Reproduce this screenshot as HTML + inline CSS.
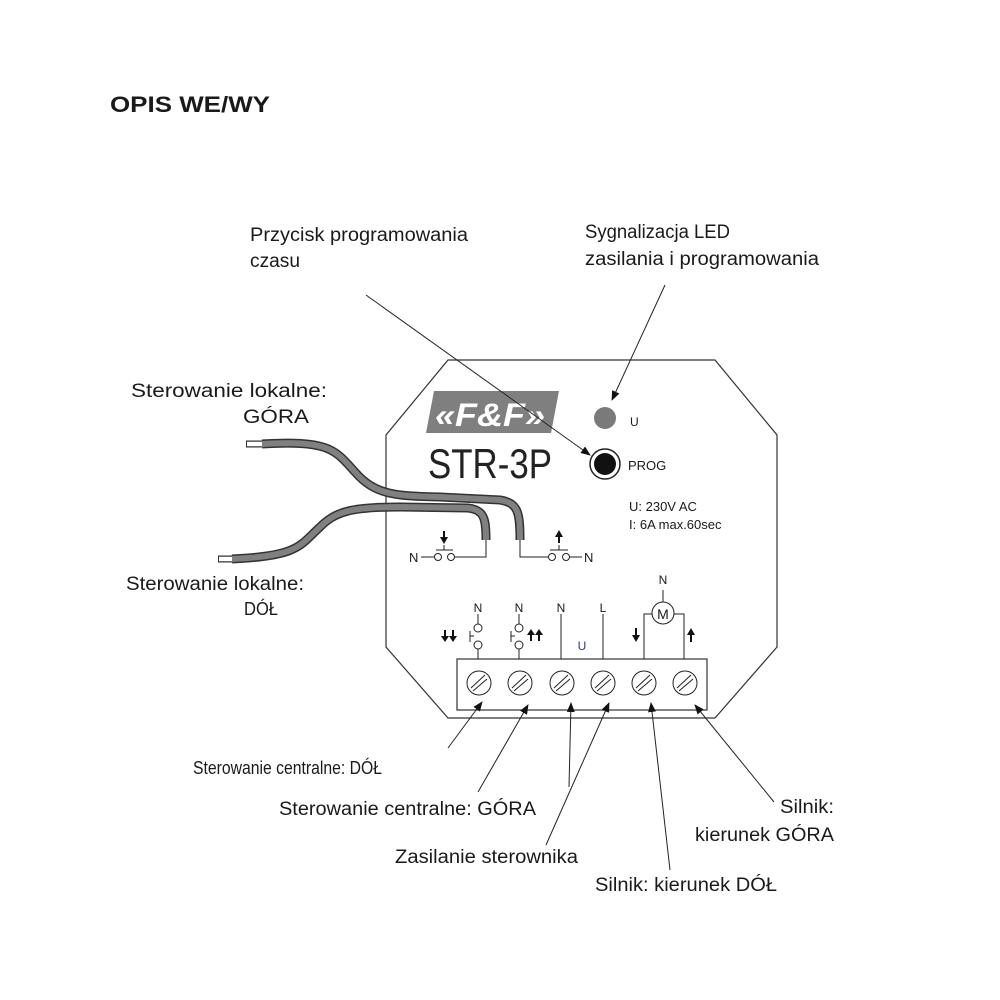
<!DOCTYPE html>
<html><head><meta charset="utf-8"><style>
html,body{margin:0;padding:0;background:#fff}
svg{display:block}
text{font-family:"Liberation Sans",sans-serif;fill:#1a1a1a}
</style></head><body>
<svg width="1000" height="1000" viewBox="0 0 1000 1000">
<defs>
<marker id="a" markerWidth="10" markerHeight="8" refX="9" refY="4" orient="auto" markerUnits="userSpaceOnUse"><path d="M0,0 L10,4 L0,8 Z" fill="#111"/></marker>
</defs>
<text x="110" y="112" font-size="22" font-weight="bold" textLength="160" lengthAdjust="spacingAndGlyphs">OPIS WE/WY</text>

<g font-size="19">
<text x="250" y="241" textLength="218" lengthAdjust="spacingAndGlyphs">Przycisk programowania</text>
<text x="250" y="267" textLength="50" lengthAdjust="spacingAndGlyphs">czasu</text>
<text x="585" y="238" textLength="145" lengthAdjust="spacingAndGlyphs">Sygnalizacja LED</text>
<text x="585" y="265" textLength="234" lengthAdjust="spacingAndGlyphs">zasilania i programowania</text>
<text x="131" y="397" textLength="196" lengthAdjust="spacingAndGlyphs">Sterowanie lokalne:</text>
<text x="243" y="423" textLength="66" lengthAdjust="spacingAndGlyphs">GÓRA</text>
<text x="126" y="590" textLength="178" lengthAdjust="spacingAndGlyphs">Sterowanie lokalne:</text>
<text x="244" y="615" font-size="18" textLength="34" lengthAdjust="spacingAndGlyphs">DÓŁ</text>
<text x="193" y="774" font-size="18" textLength="189" lengthAdjust="spacingAndGlyphs">Sterowanie centralne: DÓŁ</text>
<text x="279" y="815" textLength="257" lengthAdjust="spacingAndGlyphs">Sterowanie centralne: GÓRA</text>
<text x="395" y="863" textLength="183" lengthAdjust="spacingAndGlyphs">Zasilanie sterownika</text>
<text x="780" y="813" textLength="54" lengthAdjust="spacingAndGlyphs">Silnik:</text>
<text x="695" y="841" textLength="139" lengthAdjust="spacingAndGlyphs">kierunek GÓRA</text>
<text x="595" y="891" textLength="182" lengthAdjust="spacingAndGlyphs">Silnik: kierunek DÓŁ</text>
</g>

<path d="M448,360 L715,360 L777,435 L777,647 L715,718 L448,718 L386,647 L386,435 Z" fill="none" stroke="#333" stroke-width="1.2"/>

<path d="M434,391 L559,391 L551,433 L426,433 Z" fill="#7f7f7f"/>
<text x="490" y="426" font-size="32" font-weight="bold" font-style="italic" text-anchor="middle" style="fill:#fff" textLength="110" lengthAdjust="spacingAndGlyphs">«F&amp;F»</text>
<text x="428" y="478" font-size="42" textLength="124" lengthAdjust="spacingAndGlyphs" style="fill:#222">STR-3P</text>

<circle cx="605" cy="418" r="11" fill="#7a7a7a"/>
<text x="630" y="426" font-size="12">U</text>
<circle cx="605" cy="464" r="15" fill="#fff" stroke="#222" stroke-width="1.5"/>
<circle cx="605" cy="464" r="11" fill="#111"/>
<text x="628" y="470" font-size="13">PROG</text>
<text x="629" y="511" font-size="13">U: 230V AC</text>
<text x="629" y="529" font-size="13">I: 6A max.60sec</text>

<g fill="none" stroke-linecap="butt">
<path d="M262,444 C330,440 335,450 355,472 C375,495 395,496 440,497 L500,500 C518,503 520,512 520,540" stroke="#333" stroke-width="9"/>
<path d="M262,444 C330,440 335,450 355,472 C375,495 395,496 440,497 L500,500 C518,503 520,512 520,540" stroke="#808080" stroke-width="6"/>
<path d="M232,559 C300,556 300,545 320,527 C335,512 350,507 400,507 L468,508 C484,510 486,518 486,540" stroke="#333" stroke-width="9"/>
<path d="M232,559 C300,556 300,545 320,527 C335,512 350,507 400,507 L468,508 C484,510 486,518 486,540" stroke="#808080" stroke-width="6"/>
<path d="M246,444 L262,444" stroke="#333" stroke-width="7"/><path d="M247,444 L262,444" stroke="#fff" stroke-width="4.5"/>
<path d="M218,559 L232,559" stroke="#333" stroke-width="7"/><path d="M219,559 L232,559" stroke="#fff" stroke-width="4.5"/>
</g>

<g stroke="#222" stroke-width="1" fill="none">
<path d="M486,540 L486,557 L455,557"/>
<circle cx="451" cy="557" r="3.5" fill="#fff"/><circle cx="438" cy="557" r="3.5" fill="#fff"/>
<path d="M434,557 L421,557 M436,550 L453,550 M444,550 L444,545"/>
<path d="M520,540 L520,557 L548,557"/>
<circle cx="552" cy="557" r="3.5" fill="#fff"/><circle cx="566" cy="557" r="3.5" fill="#fff"/>
<path d="M570,557 L582,557 M550,550 L568,550 M559,550 L559,545"/>
</g>
<text x="409" y="562" font-size="13">N</text>
<text x="584" y="562" font-size="13">N</text>
<path d="M444,531 L444,539" stroke="#111" stroke-width="2"/><path d="M440,537 L448,537 L444,544 Z" fill="#111"/>
<path d="M559,535 L559,543" stroke="#111" stroke-width="2"/><path d="M555,537 L563,537 L559,530 Z" fill="#111"/>

<rect x="457" y="659" width="250" height="51" fill="none" stroke="#333" stroke-width="1.2"/>
<g stroke="#222" stroke-width="1" fill="none">
<g id="s"><circle cx="479" cy="683" r="12"/><path d="M471,688 L485,675 M473,691 L487,679"/></g>
<use href="#s" x="41"/><use href="#s" x="83"/><use href="#s" x="124"/><use href="#s" x="165"/><use href="#s" x="206"/>
<path d="M478,614 L478,624 M478,649 L478,659"/>
<circle cx="478" cy="628" r="4" fill="#fff"/><circle cx="478" cy="645" r="4" fill="#fff"/>
<path d="M470,631 L470,642 M470,636 L474,636"/>
<path d="M519,614 L519,624 M519,649 L519,659"/>
<circle cx="519" cy="628" r="4" fill="#fff"/><circle cx="519" cy="645" r="4" fill="#fff"/>
<path d="M511,631 L511,642 M511,636 L515,636"/>
<path d="M561,614 L561,659 M603,614 L603,659"/>
<path d="M644,659 L644,614 L652,614 M684,659 L684,614 L674,614 M663,602 L663,590"/>
<circle cx="663" cy="613" r="11" fill="#fff"/>
</g>
<text x="663" y="619" font-size="14" text-anchor="middle">M</text>
<g font-size="12" text-anchor="middle">
<text x="478" y="612">N</text><text x="519" y="612">N</text><text x="561" y="612">N</text><text x="603" y="612">L</text><text x="663" y="584">N</text>
<text x="582" y="650" style="fill:#2a3a8a">U</text>
</g>
<g fill="#111">
<path d="M445,630 L445,638 M453,630 L453,638" stroke="#111" stroke-width="2"/>
<path d="M441,636 L449,636 L445,642 Z M449,636 L457,636 L453,642 Z"/>
<path d="M531,632 L531,641 M539,632 L539,641" stroke="#111" stroke-width="2"/>
<path d="M527,635 L535,635 L531,629 Z M535,635 L543,635 L539,629 Z"/>
<path d="M636,628 L636,637" stroke="#111" stroke-width="2"/><path d="M632,635 L640,635 L636,642 Z"/>
<path d="M691,633 L691,642" stroke="#111" stroke-width="2"/><path d="M687,635 L695,635 L691,628 Z"/>
</g>

<g stroke="#222" stroke-width="1" fill="none" marker-end="url(#a)">
<path d="M366,295 L590,455"/>
<path d="M665,285 L612,400"/>
<path d="M448,748 L482,702"/>
<path d="M478,792 L528,705"/>
<path d="M569,787 L571,703"/>
<path d="M546,845 L609,703"/>
<path d="M670,870 L651,703"/>
<path d="M774,802 L695,705"/>
</g>
</svg>
</body></html>
